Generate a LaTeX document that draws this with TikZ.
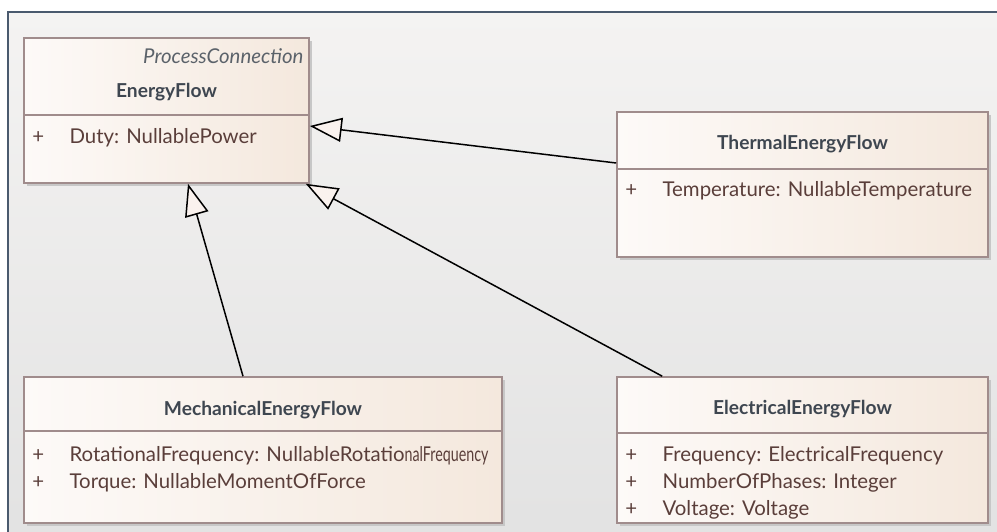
\documentclass[tikz,border=0pt]{standalone}
\usepackage{fontspec}
\setmainfont{Lato}
\usetikzlibrary{arrows.meta, positioning, shadows}

\definecolor{frameline}{HTML}{4A5A6E}
\definecolor{bgtop}{HTML}{F4F3F2}
\definecolor{bgbottom}{HTML}{E2E2E2}
\definecolor{boxline}{HTML}{A08C8C}
\definecolor{boxleft}{HTML}{FDFAF8}
\definecolor{boxright}{HTML}{F4E8DD}
\definecolor{titletext}{HTML}{3E4650}
\definecolor{attrtext}{HTML}{5A3E3A}
\definecolor{tipfill}{HTML}{FAF2EE}

\begin{document}
\begin{tikzpicture}[x=0.5pt, y=-0.5pt, on grid, font=\fontsize{10.2}{12}\selectfont,
    cls/.style={rectangle, draw=boxline, line width=0.8pt, left color=boxleft, right color=boxright, drop shadow={shadow xshift=1.5pt, shadow yshift=-1.5pt, fill=black!22, opacity=1}},
    clstitle/.style={anchor=base, inner sep=0pt, text=titletext, font=\fontsize{9.6}{12}\selectfont\bfseries},
    stereo/.style={anchor=base east, inner sep=0pt, text=titletext!85, font=\fontsize{10.2}{12}\selectfont\itshape},
    member/.style={anchor=base west, inner sep=0pt, text=attrtext},
    plus/.style={anchor=base, inner sep=0pt, text=attrtext},
    divider/.style={draw=boxline, line width=0.8pt},
    gen/.style={black, line width=0.75pt, -{Triangle[length=16pt, width=12pt, fill=tipfill]}}]

        \useasboundingbox (0,0) rectangle (997,531);
        \clip (0,0) rectangle (997,531);
        \fill[white] (0,0) rectangle (997,531);
        \draw[frameline, line width=1.2pt, top color=bgtop, bottom color=bgbottom] (8,12) rectangle (1012,548);

        \node[cls, minimum width=142.5pt, minimum height=72.5pt] (energy) at (166.5,110.5) {};
        \node[cls, minimum width=185.5pt, minimum height=72.5pt] (thermal) at (802.5,184.5) {};
        \node[cls, minimum width=239pt, minimum height=73pt] (mech) at (263,450) {};
        \node[cls, minimum width=185.5pt, minimum height=73pt, below=132.75pt of thermal] (elec) {};

        \draw[divider] ([yshift=-39pt]energy.north west) -- ([yshift=-39pt]energy.north east);
        \draw[divider] ([yshift=-29pt]thermal.north west) -- ([yshift=-29pt]thermal.north east);
        \draw[divider] ([yshift=-27.5pt]mech.north west) -- ([yshift=-27.5pt]mech.north east);
        \draw[divider] ([yshift=-28.5pt]elec.north west) -- ([yshift=-28.5pt]elec.north east);

        \node[stereo] (energyst) at ([xshift=-3pt, yshift=-13pt]energy.north east) {ProcessConnection};
        \node[clstitle] (energyname) at ([yshift=-30pt]energy.north) {EnergyFlow};
        \node[plus] (energyp1) at ([xshift=7.5pt, yshift=-53pt]energy.north west) {+};
        \node[member] (energym1) at ([xshift=23pt, yshift=-53pt]energy.north west) {Duty: NullablePower};

        \node[clstitle] (thermalname) at ([yshift=-19pt]thermal.north) {ThermalEnergyFlow};
        \node[plus] (thermalp1) at ([xshift=7.5pt, yshift=-42.5pt]thermal.north west) {+};
        \node[member] (thermalm1) at ([xshift=23pt, yshift=-42.5pt]thermal.north west) {Temperature: NullableTemperature};

        \node[clstitle] (mechname) at ([yshift=-19.5pt]mech.north) {MechanicalEnergyFlow};
        \node[plus] (mechp1) at ([xshift=7.5pt, yshift=-42.5pt]mech.north west) {+};
        \node[member] (mechm1) at ([xshift=23pt, yshift=-42.5pt]mech.north west) {RotationalFrequency: NullableRotatio\scalebox{0.7}[1]{nalFrequency}};
        \node[plus] (mechp2) at ([xshift=7.5pt, yshift=-56pt]mech.north west) {+};
        \node[member] (mechm2) at ([xshift=23pt, yshift=-56pt]mech.north west) {Torque: NullableMomentOfForce};

        \node[clstitle] (elecname) at ([yshift=-19pt]elec.north) {ElectricalEnergyFlow};
        \node[plus] (elecp1) at ([xshift=7.5pt, yshift=-42.5pt]elec.north west) {+};
        \node[member] (elecm1) at ([xshift=23pt, yshift=-42.5pt]elec.north west) {Frequency: ElectricalFrequency};
        \node[plus] (elecp2) at ([xshift=7.5pt, yshift=-56pt]elec.north west) {+};
        \node[member] (elecm2) at ([xshift=23pt, yshift=-56pt]elec.north west) {NumberOfPhases: Integer};
        \node[plus] (elecp3) at ([xshift=7.5pt, yshift=-69.5pt]elec.north west) {+};
        \node[member] (elecm3) at ([xshift=23pt, yshift=-69.5pt]elec.north west) {Voltage: Voltage};

        \path[gen]
        ([yshift=10.75pt]thermal.west) edge[] ([yshift=-7.75pt]energy.east)
        ([xshift=-10pt]mech.north) edge[] ([xshift=10.75pt]energy.south)
        ([xshift=23pt]elec.north west) edge[] ([xshift=-2pt]energy.south east);

    \end{tikzpicture}
\end{document}
